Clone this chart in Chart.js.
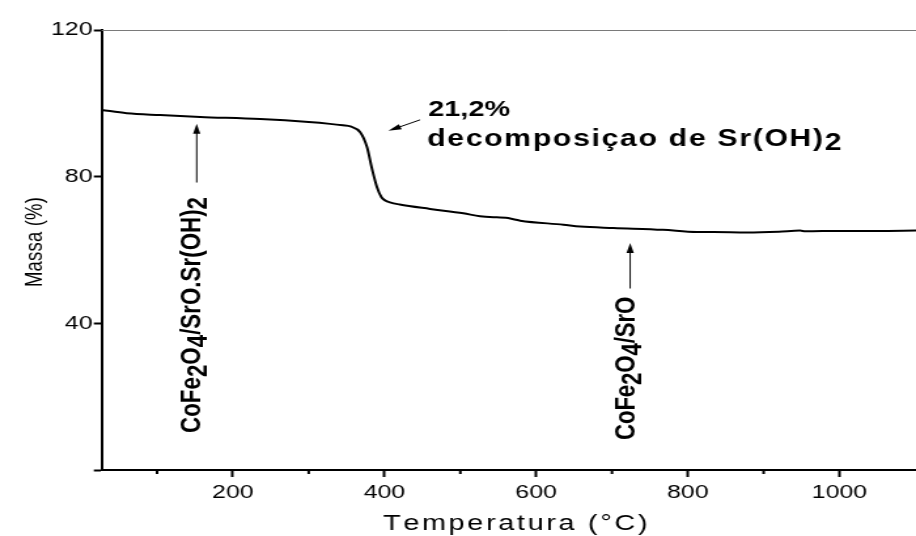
<!DOCTYPE html>
<html>
<head>
<meta charset="utf-8">
<script src="https://cdn.jsdelivr.net/npm/chart.js@4.4.1/dist/chart.umd.min.js"></script>
<style>
  html, body { margin: 0; padding: 0; background: #fff; overflow: hidden; }
  /* the original figure is stretched sideways: draw at 700px wide and widen to 916px */
  #wrap { width: 700px; height: 536px; transform: scaleX(1.308571); transform-origin: 0 0; }
  #tgaChart { display: block; }
</style>
</head>
<body>
<div id="wrap"><canvas id="tgaChart" width="700" height="536"></canvas></div>
<script>
// TGA curve: temperature (°C) vs mass (%)
const temperatures = [27, 60, 104, 157, 236, 300, 328, 345, 355, 368, 377, 383, 390, 396, 401, 407, 420, 460,
  504, 526, 548, 560, 570, 579, 636, 658, 702, 767, 812, 834, 878, 920, 948, 955, 1000, 1050, 1101];
const masses = [98.2, 97.3, 96.8, 96.3, 95.7, 94.9, 94.4, 94.0, 93.7, 92.1, 88.0, 82.6, 77.2, 74.4, 73.5, 73.0, 72.4, 71.2,
  70.0, 69.2, 68.9, 68.8, 68.4, 68.0, 66.9, 66.4, 66.0, 65.5, 64.9, 64.9, 64.8, 65.0, 65.3, 65.1, 65.2, 65.2, 65.3];

const xTicks = [200, 400, 600, 800, 1000];
const xMinorTicks = [100, 300, 500, 700, 900];
const yTicks = [0, 40, 80, 120];
const xTitle = 'Temperatura (°C)';
const yTitle = 'Massa (%)';

// labels on the plot: text runs ([text, subscript?]) and where they sit, in data units
const notes = [
  { runs: [['CoFe'], ['2', 1], ['O'], ['4', 1], ['/SrO.Sr(OH)'], ['2', 1]], t: 157.3, m: 10.1, rot: -90, len: 236, font: 'bold 22.3px' },
  { runs: [['CoFe'], ['2', 1], ['O'], ['4', 1], ['/SrO']], t: 730.6, m: 8.2, rot: -90, len: 143, font: 'bold 22.3px' },
  { runs: [['21,2%']], t: 457.5, m: 96.6, rot: 0, len: 62.7, font: 'bold 22px' },
  { runs: [['decomposiçao de Sr(OH)'], ['2', 1]], t: 456.2, m: 88.4, rot: 0, len: 318, font: 'bold 23px' }
];
// arrows: [t from, m from, t to, m to]
const arrows = [
  [152.3, 78.4, 152.3, 94.4],
  [724, 49.5, 724, 61.9],
  [447, 95.5, 405.1, 92.5]
];

const FAMILY = '"Liberation Sans", Arial, Helvetica, sans-serif';

// draw text char by char so it can be spread to a given length
function drawRuns(ctx, runs, x, y, rot, font, len) {
  ctx.save();
  ctx.translate(x, y);
  ctx.rotate(rot * Math.PI / 180);
  ctx.font = font + ' ' + FAMILY;
  ctx.fillStyle = '#000';
  ctx.textBaseline = 'alphabetic';
  ctx.textAlign = 'left';
  let natural = 0, count = 0;
  runs.forEach(r => { natural += ctx.measureText(r[0]).width; count += r[0].length; });
  const gap = len ? (len - natural) / count : 0;
  let pos = 0;
  runs.forEach(r => {
    const dy = r[1] ? 4.5 : 0;
    for (const ch of r[0]) {
      ctx.fillText(ch, pos, dy);
      pos += ctx.measureText(ch).width + gap;
    }
  });
  ctx.restore();
}

function drawArrow(ctx, x1, y1, x2, y2) {
  const ang = Math.atan2(y2 - y1, x2 - x1);
  ctx.beginPath();
  ctx.moveTo(x1, y1);
  ctx.lineTo(x2 - 8 * Math.cos(ang), y2 - 8 * Math.sin(ang));
  ctx.stroke();
  ctx.save();
  ctx.translate(x2, y2);
  ctx.rotate(ang);
  ctx.beginPath();
  ctx.moveTo(0, 0);
  ctx.lineTo(-10, -2.8);
  ctx.lineTo(-10, 2.8);
  ctx.closePath();
  ctx.fill();
  ctx.restore();
}

const extras = {
  id: 'extras',
  afterDraw(chart) {
    const { ctx, chartArea: a, scales: { x, y } } = chart;
    ctx.save();
    // thin grey frame line on top
    ctx.strokeStyle = '#7a7a7a';
    ctx.lineWidth = 1;
    ctx.beginPath();
    ctx.moveTo(a.left, a.top + 0.5);
    ctx.lineTo(a.right, a.top + 0.5);
    ctx.stroke();

    // minor ticks on the temperature axis
    ctx.strokeStyle = '#000';
    ctx.lineWidth = 2;
    xMinorTicks.forEach(v => {
      const px = x.getPixelForValue(v);
      ctx.beginPath();
      ctx.moveTo(px, a.bottom);
      ctx.lineTo(px, a.bottom + 4);
      ctx.stroke();
    });

    ctx.lineWidth = 1;
    ctx.fillStyle = '#000';
    arrows.forEach(p => drawArrow(ctx, x.getPixelForValue(p[0]), y.getPixelForValue(p[1]),
      x.getPixelForValue(p[2]), y.getPixelForValue(p[3])));

    notes.forEach(n => drawRuns(ctx, n.runs, x.getPixelForValue(n.t), y.getPixelForValue(n.m), n.rot, n.font, n.len));

    // axis titles
    drawRuns(ctx, [[yTitle]], 32.1, 287, -90, '18.5px', 90);
    drawRuns(ctx, [[xTitle]], 292.7, 530, 0, '22px', 201.7);
    ctx.restore();
  }
};

const ctx = document.getElementById('tgaChart').getContext('2d');
new Chart(ctx, {
  type: 'line',
  data: {
    datasets: [{
      data: temperatures.map((t, i) => ({ x: t, y: masses[i] })),
      borderColor: '#000',
      borderWidth: 2,
      pointRadius: 0,
      cubicInterpolationMode: 'monotone',
      fill: false
    }]
  },
  options: {
    responsive: false,
    devicePixelRatio: 1,
    animation: false,
    layout: { padding: { top: 30, left: 0, right: 0, bottom: 0 } },
    plugins: { legend: { display: false }, tooltip: { enabled: false } },
    scales: {
      x: {
        type: 'linear',
        min: 27,
        max: 1101,
        afterBuildTicks: s => { s.ticks = xTicks.map(v => ({ value: v })); },
        afterFit: s => { s.height = 66; },
        grid: { drawOnChartArea: false, drawTicks: true, tickLength: 7, tickWidth: 2, tickColor: '#000' },
        border: { display: true, color: '#000', width: 2 },
        ticks: {
          color: '#000',
          padding: 4,
          maxRotation: 0,
          font: { family: FAMILY, size: 19 },
          callback: v => String(v)
        }
      },
      y: {
        type: 'linear',
        min: 0,
        max: 120,
        afterBuildTicks: s => { s.ticks = yTicks.map(v => ({ value: v })); },
        afterFit: s => { s.width = 77.7; },
        grid: { drawOnChartArea: false, drawTicks: true, tickLength: 6, tickWidth: 2, tickColor: '#000' },
        border: { display: true, color: '#000', width: 2 },
        ticks: {
          color: '#000',
          padding: 1,
          font: { family: FAMILY, size: 19 },
          callback: v => (v === 0 ? '' : String(v))
        }
      }
    }
  },
  plugins: [extras]
});
</script>
</body>
</html>
